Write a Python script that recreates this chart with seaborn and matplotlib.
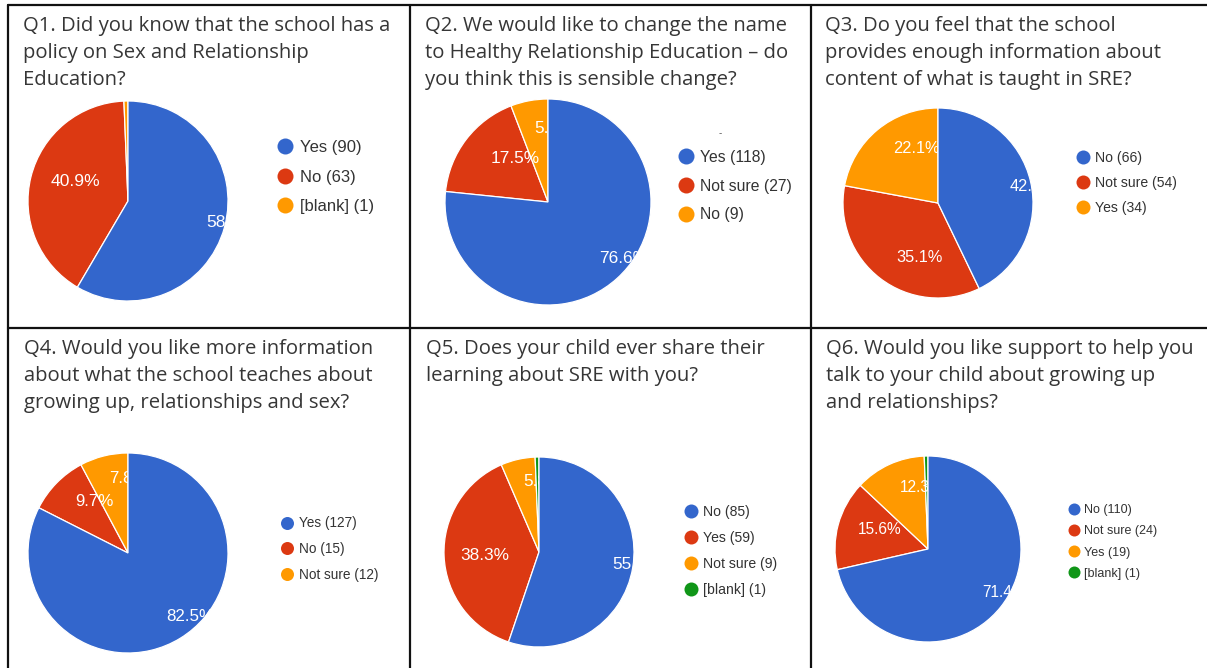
import matplotlib
matplotlib.use("Agg")
import numpy as np
import matplotlib.pyplot as plt
from matplotlib.patches import Circle
from matplotlib.lines import Line2D
import seaborn as sns

# ---------------- data ----------------
titles = [
    "Q1. Did you know that the school has a\npolicy on Sex and Relationship\nEducation?",
    "Q2. We would like to change the name\nto Healthy Relationship Education \u2013 do\nyou think this is sensible change?",
    "Q3. Do you feel that the school\nprovides enough information about\ncontent of what is taught in SRE?",
    "Q4. Would you like more information\nabout what the school teaches about\ngrowing up, relationships and sex?",
    "Q5. Does your child ever share their\nlearning about SRE with you?",
    "Q6. Would you like support to help you\ntalk to your child about growing up\nand relationships?",
]
q1_labels = ["Yes", "No", "[blank]"]
q1_counts = [90, 63, 1]
q2_labels = ["Yes", "Not sure", "No"]
q2_counts = [118, 27, 9]
q3_labels = ["No", "Not sure", "Yes"]
q3_counts = [66, 54, 34]
q4_labels = ["Yes", "No", "Not sure"]
q4_counts = [127, 15, 12]
q5_labels = ["No", "Yes", "Not sure", "[blank]"]
q5_counts = [85, 59, 9, 1]
q6_labels = ["No", "Not sure", "Yes", "[blank]"]
q6_counts = [110, 24, 19, 1]

all_labels = [q1_labels, q2_labels, q3_labels, q4_labels, q5_labels, q6_labels]
all_counts = [q1_counts, q2_counts, q3_counts, q4_counts, q5_counts, q6_counts]

# ---------------- style / layout ----------------
sns.set_theme(style="white")
plt.rcParams['font.family'] = ['Liberation Sans', 'DejaVu Sans']
palette = sns.color_palette(["#3366CC", "#DC3912", "#FF9900", "#109618"])

W, H = 1207, 668
fig = plt.figure(figsize=(W / 100, H / 100), dpi=100)
fig.patch.set_facecolor("white")

def fx(px):
    return px / W

def fy(py):
    return 1 - py / H

# pie centre x, centre y, radius (pixels)
pie_geom = [(128, 201, 100), (548, 202, 103), (938, 203, 95),
            (128, 553, 100), (539, 552, 95), (928, 549, 93)]
# radius factor (of slice mid-angle) where each slice label starts
label_r = [[0.81, 0.80, 0.7], [0.74, 0.70, 0.73], [0.77, 0.72, 0.74],
           [0.74, 0.74, 0.77], [0.78, 0.83, 0.76, 0.7], [0.75, 0.78, 0.73, 0.7]]
pct_size = [12.6, 12.4, 11.8, 12.2, 12.4, 11.2]
# legend: marker centre x, rows centre y, font size pt, marker px, labelspacing, textpad
leg_geom = [(285, 177, 12.0, 16, 0.88, 0.42), (686, 186, 11.3, 16, 0.88, 0.40),
            (1083, 183, 10.1, 14, 0.76, 0.38), (287, 549, 9.8, 13, 0.86, 0.40),
            (691, 551, 10.1, 14, 0.84, 0.38), (1074, 542, 9.0, 12, 0.73, 0.32)]
title_pos = [(23, 16.5), (425, 16.5), (825, 16.5), (24, 339), (426, 339), (826, 339)]
title_size = 14.6

for i in range(6):
    cx, cy, r = pie_geom[i]
    ax = fig.add_axes([fx(cx - r), fy(cy + r), fx(2 * r), (2 * r) / H])
    counts = all_counts[i]
    labels = all_labels[i]
    cols = palette[:len(counts)]
    wedges, _, autotexts = ax.pie(
        counts, colors=cols, startangle=90, counterclock=False,
        autopct=lambda p: f"{p:.1f}%" if p >= 1 else "",
        pctdistance=0.6, radius=1.0,
        wedgeprops=dict(edgecolor="white", linewidth=0.9),
        textprops=dict(color="white", fontsize=pct_size[i]))
    ax.set_xlim(-1, 1)
    ax.set_ylim(-1, 1)
    ax.set_aspect("equal")
    ax.axis("off")
    clip = Circle((0, 0), 1.0, transform=ax.transData, facecolor="none", edgecolor="none")
    ax.add_patch(clip)
    for j, (w, t) in enumerate(zip(wedges, autotexts)):
        mid = np.deg2rad((w.theta1 + w.theta2) / 2)
        f = label_r[i][j]
        t.set_position((f * np.cos(mid), f * np.sin(mid)))
        t.set_ha("left")
        t.set_va("center")
        t.set_clip_path(clip)
        if j == 0:
            w.set_zorder(3)
            t.set_zorder(4)
        else:
            w.set_zorder(1)
            t.set_zorder(2)

    mx, my, lfs, mpx, lsp, tpad = leg_geom[i]
    fs_px = lfs * 100 / 72
    handles = [Line2D([], [], marker="o", linestyle="", color=c,
                      markersize=mpx * 0.72, markeredgewidth=0) for c in cols]
    leg_labels = [f"{l} ({c})" for l, c in zip(labels, counts)]
    fig.legend(handles, leg_labels, loc="center left",
               bbox_to_anchor=(fx(mx - 0.5 * fs_px), fy(my)),
               bbox_transform=fig.transFigure, frameon=False,
               fontsize=lfs, handlelength=1.0, handletextpad=tpad,
               labelspacing=lsp, borderpad=0, borderaxespad=0,
               labelcolor="#333333")

    tx, ty = title_pos[i]
    fig.text(fx(tx), fy(ty), titles[i], ha="left", va="top",
             fontsize=title_size, color="#363636", linespacing=1.46,
             family=["Open Sans", "DejaVu Sans"])

# stray dash above Q2 legend
fig.text(fx(720), fy(133), "-", fontsize=7, color="#555555", ha="center", va="center")

# cell borders
border_kw = dict(color="#111111", linewidth=1.6, transform=fig.transFigure)
fig.add_artist(Line2D([fx(8), fx(8)], [fy(5), fy(668)], **border_kw))
fig.add_artist(Line2D([fx(410.5), fx(410.5)], [fy(5), fy(668)], **border_kw))
fig.add_artist(Line2D([fx(811), fx(811)], [fy(5), fy(668)], **border_kw))
fig.add_artist(Line2D([fx(8), fx(1207)], [fy(5), fy(5)], **border_kw))
fig.add_artist(Line2D([fx(8), fx(1207)], [fy(327.5), fy(327.5)], **border_kw))

fig.savefig("out.png", dpi=100, facecolor="white")
